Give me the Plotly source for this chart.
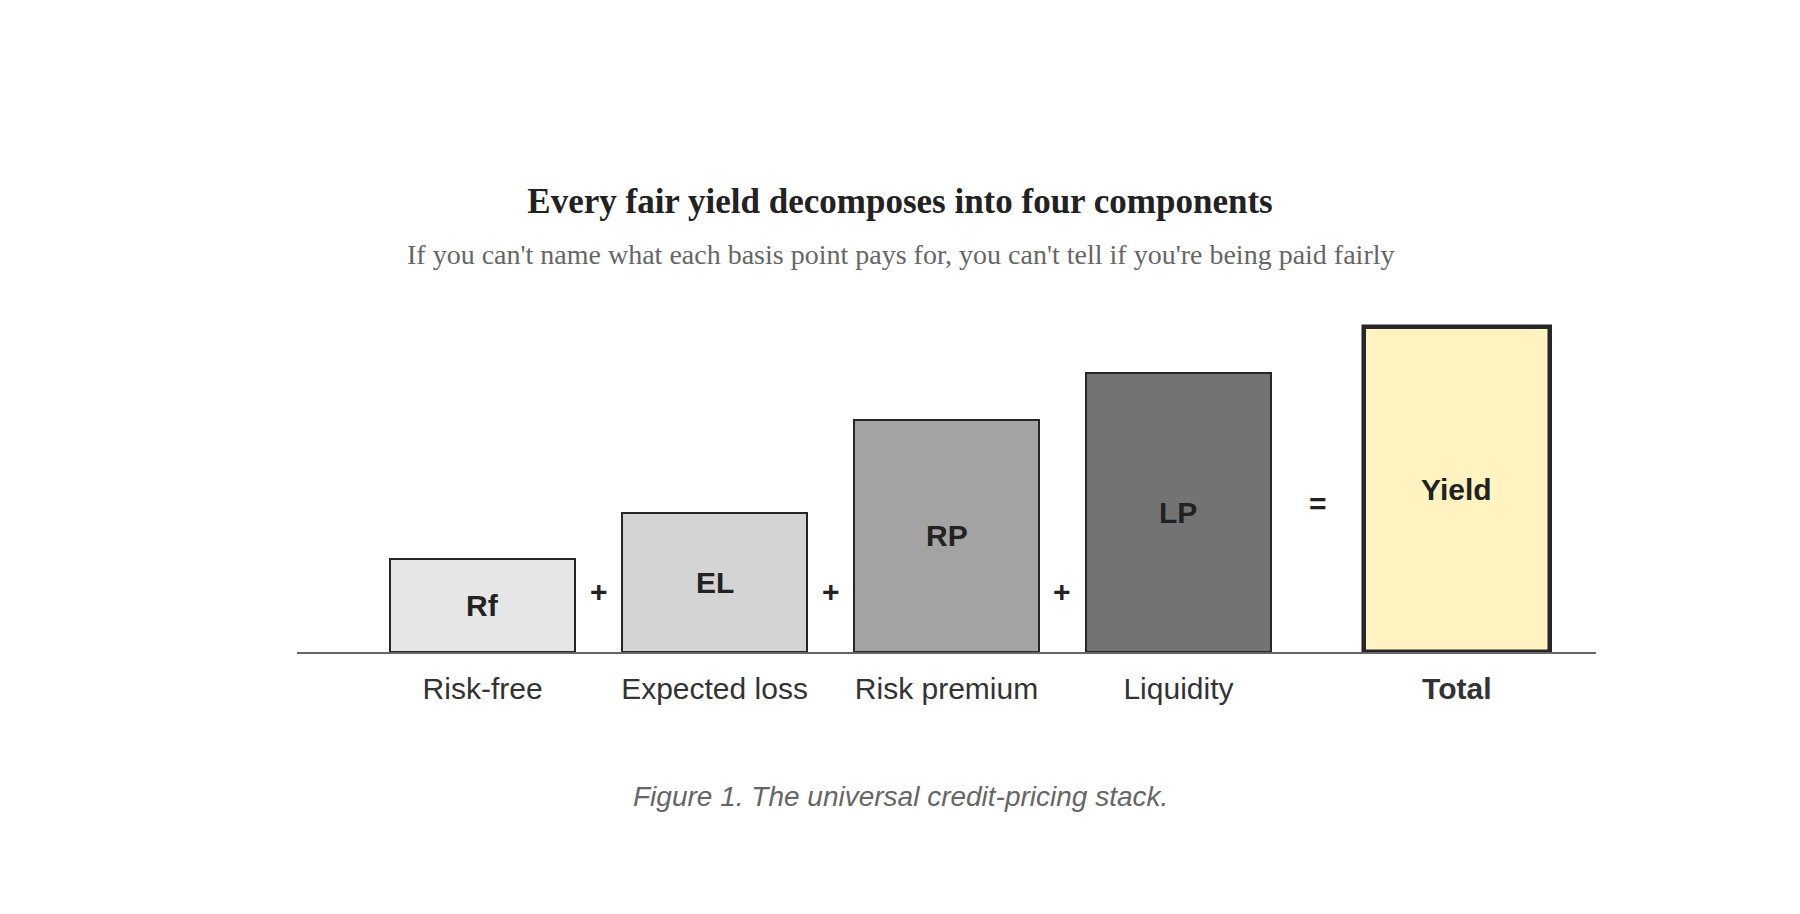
import plotly.graph_objects as go

# ---- data ----
categories = ["Risk-free", "Expected loss", "Risk premium", "Liquidity", "Total"]
short_labels = ["Rf", "EL", "RP", "LP", "Yield"]
values = [2, 3, 5, 6, 7]
x_pos = [0, 1, 2, 3, 4.2]
operators = ["+", "+", "+", "="]

# ---- styles ----
fills = ["#e6e6e6", "#d4d4d4", "#a3a3a3", "#737373", "#fff3c2"]
line_widths = [2, 2, 2, 2, 4.5]
op_y = [1.3, 1.3, 1.3, 3.2]

W, H = 1800, 914
OFF = 8  # browser body margin compensation
ml, mr, mt, mb = 297 - OFF, 204 + OFF, 280 - OFF, 262 + OFF
plot_h = H - mt - mb

fig = go.Figure()
fig.add_trace(go.Bar(
    x=x_pos, y=values, width=0.8,
    marker=dict(color=fills, line=dict(color="#262626", width=line_widths)),
    hoverinfo="skip", showlegend=False,
))

annotations = []
for xp, v, lab in zip(x_pos, values, short_labels):
    annotations.append(dict(x=xp, y=v / 2, xref="x", yref="y", text=f"<b>{lab}</b>",
                            showarrow=False, font=dict(family="Liberation Sans, Arial, sans-serif",
                                                       size=30, color="#222222")))
for i, op in enumerate(operators):
    xm = (x_pos[i] + x_pos[i + 1]) / 2
    annotations.append(dict(x=xm, y=op_y[i], xref="x", yref="y", text=f"<b>{op}</b>",
                            showarrow=False, font=dict(family="Liberation Sans, Arial, sans-serif",
                                                       size=30, color="#222222")))

def page_x(px):
    return (px - OFF - ml) / (W - ml - mr)

def page_y(py):
    return (H - mb - (py - OFF)) / plot_h

annotations.append(dict(x=page_x(900), y=page_y(254), xref="paper", yref="paper",
                        text="If you can't name what each basis point pays for, you can't tell if you're being paid fairly",
                        showarrow=False, xanchor="center", yanchor="middle",
                        font=dict(family="Liberation Serif, Times New Roman, serif", size=28, color="#666666")))
annotations.append(dict(x=page_x(900), y=page_y(796), xref="paper", yref="paper",
                        text="<i>Figure 1. The universal credit-pricing stack.</i>",
                        showarrow=False, xanchor="center", yanchor="middle",
                        font=dict(family="Liberation Sans, Arial, sans-serif", size=28, color="#666666")))

ticktext = [c if c != "Total" else "<b>Total</b>" for c in categories]

fig.update_layout(
    width=W, height=H,
    margin=dict(l=ml, r=mr, t=mt, b=mb),
    paper_bgcolor="white", plot_bgcolor="white",
    title=dict(text="<b>Every fair yield decomposes into four components</b>",
               x=(900 - OFF) / W, xref="container", xanchor="center",
               y=1 - (201 - OFF) / H, yref="container", yanchor="middle",
               font=dict(family="Liberation Serif, Times New Roman, serif", size=35, color="#222222")),
    xaxis=dict(range=[-0.8, 4.8], tickvals=x_pos, ticktext=ticktext, showgrid=False, zeroline=False,
               showline=True, linecolor="#666666", linewidth=2, ticks="",
               ticklabelstandoff=9,
               tickfont=dict(family="Liberation Sans, Arial, sans-serif", size=30, color="#333333"),
               fixedrange=True),
    yaxis=dict(range=[0, 8], visible=False, fixedrange=True),
    annotations=annotations,
    bargap=0,
)

fig.write_html("out.html")
